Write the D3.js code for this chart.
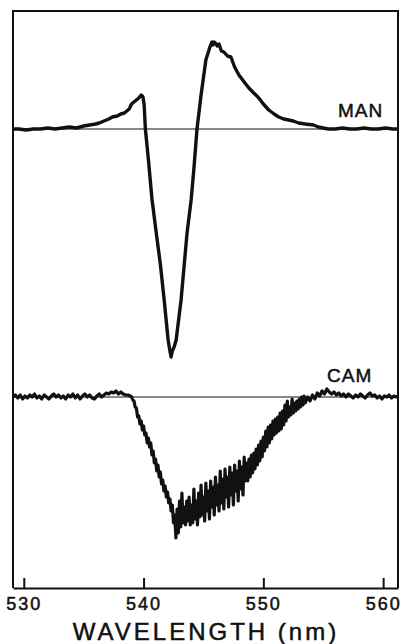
<!DOCTYPE html>
<html>
<head>
<meta charset="utf-8">
<script src="https://cdn.jsdelivr.net/npm/d3@7.9.0/dist/d3.min.js"></script>
<style>
  html, body { margin: 0; padding: 0; background: #fff; }
  svg { display: block; }
  text { font-family: "Liberation Sans", Arial, Helvetica, sans-serif; fill: #111; stroke: #111; stroke-width: 0.5px; }
</style>
</head>
<body>
<svg id="chart" width="407" height="644"></svg>
<script>
// wavelength ticks
const tickValues = [530, 540, 550, 560];

// MAN trace: wavelength (nm) and signal (arbitrary units, baseline 0)
const manWl = [529.1, 529.6, 530.2, 530.8, 531.4, 532.0, 532.6, 533.2, 533.8, 534.4,
  535.0, 535.5, 536.0, 536.3, 536.7, 537.1, 537.4, 537.8, 538.1, 538.4,
  538.6, 538.8, 539.0, 539.2, 539.4, 539.6, 539.8, 539.95, 540.05, 540.15,
  540.4, 540.7, 541.06, 541.4, 541.72, 542.05, 542.2, 542.3, 542.4, 542.55,
  542.72, 543.13, 543.63, 543.97, 544.2, 544.46, 544.8, 545.2, 545.46, 545.6,
  545.71, 545.8, 545.9, 546.0, 546.15, 546.3, 546.5, 546.71, 547.0, 547.29,
  547.6, 547.96, 548.4, 548.79, 549.2, 549.62, 550.0, 550.45, 550.9, 551.28,
  551.7, 552.11, 552.5, 552.94, 553.5, 554.19, 554.6, 555.0, 555.44, 556.0,
  556.6, 557.2, 557.8, 558.4, 559.0, 559.6, 560.2, 560.8, 561.24];
const manVal = [0, 0, -1, 0, 0, 1, 0, 1, 2, 1,
  3, 4, 5, 6, 8, 10, 12, 13, 15, 16,
  18, 20, 25, 27, 29, 31, 34, 32, 24, 0,
  -30, -70, -104, -135, -171, -211, -222, -228, -222, -218,
  -211, -171, -104, -71, -40, 0, 34, 69, 79, 84,
  87, 84, 87, 86, 83, 85, 78, 77, 73, 72,
  62, 54, 47, 41, 36, 31, 25, 19, 15, 12,
  10, 9, 8, 6, 5, 4, 2, 1, 0, 0,
  1, 0, 0, 1, 0, 0, 1, 0, 0];

// CAM trace: wavelength (nm) and signal (arbitrary units, relative to its own baseline)
const camWl = [
  529.1, 529.3, 529.5, 529.7, 529.9, 530.1, 530.3, 530.5, 530.7, 530.9,
  531.1, 531.3, 531.5, 531.7, 531.9, 532.1, 532.3, 532.5, 532.7, 532.9,
  533.1, 533.3, 533.5, 533.7, 533.9, 534.1, 534.3, 534.5, 534.7, 534.9,
  535.1, 535.3, 535.5, 535.7, 535.9, 536.1, 536.3, 536.5, 536.7, 536.9,
  537.1, 537.3, 537.5, 537.7, 537.9, 538.1, 538.3, 538.5, 538.7, 538.9,
  539.0, 539.1, 539.2, 539.3, 539.4, 539.5, 539.6, 539.7, 539.8, 539.9,
  540.0, 540.1, 540.2, 540.3, 540.4, 540.5, 540.6, 540.7, 540.8, 540.9,
  541.0, 541.1, 541.2, 541.3, 541.4, 541.5, 541.6, 541.7, 541.8, 541.9,
  542.0, 542.1, 542.2, 542.3, 542.4, 542.5, 542.6, 542.7, 542.8, 542.9,
  543.0, 543.1, 543.2, 543.3, 543.4, 543.5, 543.6, 543.7, 543.8, 543.9,
  544.0, 544.1, 544.2, 544.3, 544.4, 544.5, 544.6, 544.7, 544.8, 544.9,
  545.0, 545.1, 545.2, 545.3, 545.4, 545.5, 545.6, 545.7, 545.8, 545.9,
  546.0, 546.1, 546.2, 546.3, 546.4, 546.5, 546.6, 546.7, 546.8, 546.9,
  547.0, 547.1, 547.2, 547.3, 547.4, 547.5, 547.6, 547.7, 547.8, 547.9,
  548.0, 548.1, 548.2, 548.3, 548.4, 548.5, 548.6, 548.7, 548.8, 548.9,
  549.0, 549.1, 549.2, 549.3, 549.4, 549.5, 549.6, 549.7, 549.8, 549.9,
  550.0, 550.1, 550.2, 550.3, 550.4, 550.5, 550.6, 550.7, 550.8, 550.9,
  551.0, 551.1, 551.2, 551.3, 551.4, 551.5, 551.6, 551.7, 551.8, 551.9,
  552.0, 552.1, 552.2, 552.3, 552.4, 552.5, 552.6, 552.7, 552.8, 552.9,
  553.0, 553.1, 553.2, 553.3, 553.4, 553.5, 553.7, 553.9, 554.1, 554.3,
  554.5, 554.7, 554.9, 555.1, 555.3, 555.5, 555.7, 555.9, 556.1, 556.3,
  556.5, 556.7, 556.9, 557.1, 557.3, 557.5, 557.7, 557.9, 558.1, 558.3,
  558.5, 558.7, 558.9, 559.1, 559.3, 559.5, 559.7, 559.9, 560.1, 560.3,
  560.5, 560.7, 560.9, 561.1, 561.24];
const camVal = [
  0, 2, -1, 2, -2, 1, -1, 2, 0, 3,
  -1, 1, -2, 2, 0, -2, 1, 3, 0, 2,
  -1, 1, -2, 2, 0, 3, -1, 2, -2, 1,
  3, 0, 2, -1, -2, 1, 3, 0, 2, 4,
  3, 5, 4, 6, 3, 5, 3, 2, 2, 1,
  0, -3, -4, -10, -11, -20, -19, -27, -24, -33,
  -29, -38, -36, -46, -41, -50, -46, -58, -54, -66,
  -62, -74, -68, -80, -75, -87, -83, -94, -89, -100,
  -95, -106, -102, -114, -108, -126, -118, -141, -112, -136,
  -104, -130, -96, -126, -110, -128, -104, -124, -100, -128,
  -108, -126, -92, -122, -104, -128, -96, -120, -88, -118,
  -100, -124, -86, -114, -94, -122, -84, -110, -90, -118,
  -80, -108, -88, -114, -74, -106, -82, -112, -72, -100,
  -80, -110, -70, -98, -76, -108, -68, -94, -74, -104,
  -64, -92, -70, -98, -60, -84, -66, -84, -62, -80,
  -58, -76, -56, -72, -52, -68, -48, -64, -44, -60,
  -40, -54, -34, -50, -30, -46, -28, -42, -24, -38,
  -22, -36, -20, -34, -16, -32, -14, -28, -8, -24,
  -4, -20, -10, -18, -2, -16, -6, -14, -4, -12,
  -2, -10, 0, -8, 1, -6, 0, -4, 2, -2,
  4, 1, 6, 3, 8, 5, 3, 5, 2, 4,
  1, 3, 0, 3, 1, -1, 2, 0, 3, 1,
  -1, 2, 4, 1, 2, -1, 1, -2, 1, 0,
  2, -1, 1, 0, 1];

const MAN_BASE = 0;
const CAM_BASE = -268;

const svg = d3.select('#chart');
const frame = { left: 13, right: 398, top: 11, bottom: 588 };

const x = d3.scaleLinear().domain([529.1, 561.24]).range([frame.left, frame.right]);
const y = d3.scaleLinear().domain([118, -459]).range([frame.top, frame.bottom]);

const zip = (a, b) => a.map((d, i) => [d, b[i]]);
const man = zip(manWl, manVal);
const cam = zip(camWl, camVal);

// frame: left, top, right
svg.append('path')
  .attr('d', `M${frame.left},${frame.bottom} V${frame.top} H${frame.right} V${frame.bottom}`)
  .attr('fill', 'none')
  .attr('stroke', '#111')
  .attr('stroke-width', 2);

// zero lines
[MAN_BASE, CAM_BASE].forEach(b => {
  svg.append('line')
    .attr('x1', frame.left).attr('x2', frame.right)
    .attr('y1', y(b)).attr('y2', y(b))
    .attr('stroke', '#111')
    .attr('stroke-width', 1);
});

const line = base => d3.line()
  .x(d => x(d[0]))
  .y(d => y(d[1] + base));

svg.append('path')
  .datum(man)
  .attr('d', line(MAN_BASE))
  .attr('fill', 'none')
  .attr('stroke', '#111')
  .attr('stroke-width', 3.4)
  .attr('stroke-linejoin', 'round');

svg.append('path')
  .datum(cam)
  .attr('d', line(CAM_BASE))
  .attr('fill', 'none')
  .attr('stroke', '#111')
  .attr('stroke-width', 3.2)
  .attr('stroke-linejoin', 'round');

// bottom axis with inward ticks
const axis = svg.append('g')
  .attr('transform', `translate(0,${frame.bottom})`)
  .call(d3.axisBottom(x).tickValues(tickValues).tickSizeInner(-10).tickSizeOuter(0).tickPadding(9));
axis.select('.domain').attr('stroke', '#111').attr('stroke-width', 2);
axis.selectAll('.tick line').attr('stroke', '#111').attr('stroke-width', 2);
axis.selectAll('.tick text')
  .attr('font-size', 18)
  .attr('letter-spacing', 2)
  .attr('font-family', '"Liberation Sans", Arial, sans-serif')
  .attr('fill', '#111');

// labels
svg.append('text')
  .attr('x', 338).attr('y', 117)
  .attr('font-size', 19)
  .attr('letter-spacing', 1)
  .text('MAN');

svg.append('text')
  .attr('x', 327).attr('y', 382)
  .attr('font-size', 19)
  .attr('letter-spacing', 1)
  .text('CAM');

svg.append('text')
  .attr('x', 206).attr('y', 640)
  .attr('text-anchor', 'middle')
  .attr('font-size', 24)
  .attr('letter-spacing', 3)
  .text('WAVELENGTH (nm)');
</script>
</body>
</html>
